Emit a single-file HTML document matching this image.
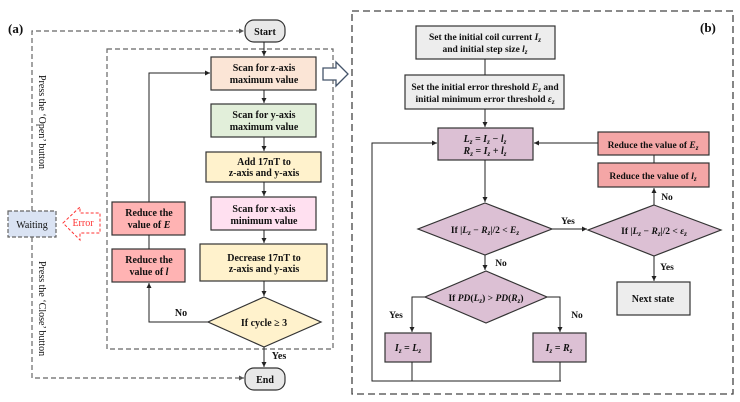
<!DOCTYPE html>
<html><head><meta charset="utf-8"><style>
html,body{margin:0;padding:0;background:#fff}
svg{display:block}
text{font-family:"Liberation Serif",serif;font-weight:bold;font-size:10px;fill:#111}
.n{font-weight:normal}
</style></head><body>
<svg width="740" height="402" viewBox="0 0 740 402" xmlns="http://www.w3.org/2000/svg">
<defs>
<marker id="a" markerWidth="6" markerHeight="6" refX="5" refY="3" orient="auto" markerUnits="userSpaceOnUse"><path d="M0,0.5 L5,3 L0,5.5z" fill="#222"/></marker>
<marker id="g" markerWidth="6" markerHeight="6" refX="5" refY="3" orient="auto" markerUnits="userSpaceOnUse"><path d="M0,0.5 L5,3 L0,5.5z" fill="#555"/></marker>
</defs>
<!-- panel a -->
<text x="8" y="33" style="font-size:13px">(a)</text>
<g stroke="#666" stroke-width="1.2" stroke-dasharray="5,3" fill="none">
<path d="M32,211 V31 H244" marker-end="url(#g)"/>
<path d="M32,237 V378 H244" marker-end="url(#g)"/>
<rect x="107" y="49" width="226" height="300"/>
</g>
<rect x="8" y="211" width="48" height="26" fill="#dae3f3" stroke="#666" stroke-width="1.2" stroke-dasharray="4,2"/>
<text x="32" y="228" text-anchor="middle" class="n">Waiting</text>
<path d="M63,223 L80,207 V213 H100 V233 H80 V240 Z" fill="none" stroke="#f33" stroke-width="1" stroke-dasharray="3,2"/>
<text x="83" y="226" text-anchor="middle" class="n" style="fill:#f33">Error</text>
<text transform="translate(39,75) rotate(90)" class="n">Press the ‘Open’ button</text>
<text transform="translate(39,261) rotate(90)" class="n">Press the ‘Close’ button</text>
<rect x="245" y="20" width="40" height="22" rx="9" fill="#e8e8e8" stroke="#333" stroke-width="1.2"/>
<text x="265" y="35" text-anchor="middle">Start</text>
<rect x="245" y="368" width="40" height="22" rx="9" fill="#e8e8e8" stroke="#333" stroke-width="1.2"/>
<text x="265" y="383" text-anchor="middle">End</text>
<g stroke="#333" stroke-width="1.2">
<rect x="211" y="57" width="105" height="33" fill="#fbe5d6"/>
<rect x="211" y="104" width="105" height="33" fill="#e2efda"/>
<rect x="206" y="152" width="115" height="30" fill="#fff2cc"/>
<rect x="211" y="197" width="105" height="33" fill="#ffe0f0"/>
<rect x="200" y="244" width="127" height="37" fill="#fff2cc"/>
<path d="M264,297 L321,322 L264,347 L208,322Z" fill="#fff2cc"/>
<rect x="112" y="202" width="73" height="33" fill="#ffb3b3"/>
<rect x="112" y="249" width="73" height="33" fill="#ffb3b3"/>
</g>
<g stroke="#222" stroke-width="1" fill="none">
<path d="M264,42 V56" marker-end="url(#a)"/>
<path d="M264,90 V103" marker-end="url(#a)"/>
<path d="M264,137 V151" marker-end="url(#a)"/>
<path d="M264,182 V196" marker-end="url(#a)"/>
<path d="M264,230 V243" marker-end="url(#a)"/>
<path d="M264,281 V296" marker-end="url(#a)"/>
<path d="M264,347 V367" marker-end="url(#a)"/>
<path d="M149,202 V73 H210" marker-end="url(#a)"/>
<path d="M149,235 V249"/>
<path d="M208,322 H149 V283" marker-end="url(#a)"/>
</g>
<path d="M323,68 H336 V62 L348,74 L336,86 V80 H323Z" fill="#fff" stroke="#44546a" stroke-width="1.3"/>
<text x="264" y="71" text-anchor="middle">Scan for z-axis</text><text x="264" y="83" text-anchor="middle">maximum value</text>
<text x="264" y="118" text-anchor="middle">Scan for y-axis</text><text x="264" y="130" text-anchor="middle">maximum value</text>
<text x="264" y="165" text-anchor="middle">Add 17nT to</text><text x="264" y="176" text-anchor="middle">z-axis and y-axis</text>
<text x="264" y="212" text-anchor="middle">Scan for x-axis</text><text x="264" y="224" text-anchor="middle">minimum value</text>
<text x="264" y="261" text-anchor="middle">Decrease 17nT to</text><text x="264" y="272" text-anchor="middle">z-axis and y-axis</text>
<text x="264" y="326" text-anchor="middle">If cycle ≥ 3</text>
<text x="149" y="216" text-anchor="middle">Reduce the</text><text x="149" y="228" text-anchor="middle">value of <tspan font-style="italic">E</tspan></text>
<text x="149" y="263" text-anchor="middle">Reduce the</text><text x="149" y="275" text-anchor="middle">value of <tspan font-style="italic">l</tspan></text>
<text x="181" y="316" text-anchor="middle">No</text>
<text x="279" y="359" text-anchor="middle">Yes</text>
<!-- panel b -->
<rect x="352" y="11" width="381" height="383" fill="none" stroke="#444" stroke-width="1.3" stroke-dasharray="7,4"/>
<text x="700" y="32" style="font-size:13px">(b)</text>
<g stroke="#333" stroke-width="1.2">
<rect x="416" y="26" width="139" height="33" fill="#ededed"/>
<rect x="405" y="75" width="159" height="34" fill="#ededed"/>
<rect x="438" y="128" width="95" height="32" fill="#dcc0d4"/>
<rect x="598" y="132" width="111" height="23" fill="#f4a6a6"/>
<rect x="598" y="163" width="111" height="24" fill="#f4a6a6"/>
<path d="M485,203 L552,229 L485,255 L418,229Z" fill="#dcc0d4"/>
<path d="M654,205 L721,230 L654,256 L588,230Z" fill="#dcc0d4"/>
<path d="M486,271 L547,297 L486,323 L425,297Z" fill="#dcc0d4"/>
<rect x="617" y="282" width="73" height="33" fill="#ededed"/>
<rect x="385" y="333" width="46" height="29" fill="#dcc0d4"/>
<rect x="533" y="333" width="53" height="29" fill="#dcc0d4"/>
</g>
<g stroke="#222" stroke-width="1" fill="none">
<path d="M485,59 V75"/>
<path d="M485,109 V127" marker-end="url(#a)"/>
<path d="M485,160 V202" marker-end="url(#a)"/>
<path d="M552,229 H587" marker-end="url(#a)"/>
<path d="M654,205 V188" marker-end="url(#a)"/>
<path d="M654,155 V163"/>
<path d="M598,143 H534" marker-end="url(#a)"/>
<path d="M654,256 V281" marker-end="url(#a)"/>
<path d="M485,255 V270" marker-end="url(#a)"/>
<path d="M425,297 H412 V332" marker-end="url(#a)"/>
<path d="M547,297 H560 V332" marker-end="url(#a)"/>
<path d="M412,362 V381 M560,362 V381 M561,381 H372 V143 H437" marker-end="url(#a)"/>
</g>
<text x="485" y="40" text-anchor="middle" style="font-size:9.5px">Set the initial coil current <tspan font-style="italic">I<tspan style="font-size:7px" dy="2">z</tspan></tspan></text>
<text x="485" y="52" text-anchor="middle" style="font-size:9.5px">and initial step size <tspan font-style="italic">l<tspan style="font-size:7px" dy="2">z</tspan></tspan></text>
<text x="485" y="90" text-anchor="middle" style="font-size:9.5px">Set the initial error threshold <tspan font-style="italic">E<tspan style="font-size:7px" dy="2">z</tspan></tspan><tspan dy="-2"> and</tspan></text>
<text x="485" y="102" text-anchor="middle" style="font-size:9.5px">initial minimum error threshold <tspan font-style="italic">ε<tspan style="font-size:7px" dy="2">z</tspan></tspan></text>
<text x="485" y="142" text-anchor="middle" font-style="italic">L<tspan style="font-size:7px" dy="2">z</tspan><tspan dy="-2"> = I</tspan><tspan style="font-size:7px" dy="2">z</tspan><tspan dy="-2"> − l</tspan><tspan style="font-size:7px" dy="2">z</tspan></text>
<text x="485" y="154" text-anchor="middle" font-style="italic">R<tspan style="font-size:7px" dy="2">z</tspan><tspan dy="-2"> = I</tspan><tspan style="font-size:7px" dy="2">z</tspan><tspan dy="-2"> + l</tspan><tspan style="font-size:7px" dy="2">z</tspan></text>
<text x="653" y="148" text-anchor="middle" style="font-size:9.5px">Reduce the value of <tspan font-style="italic">E<tspan style="font-size:7px" dy="2">z</tspan></tspan></text>
<text x="653" y="179" text-anchor="middle" style="font-size:9.5px">Reduce the value of <tspan font-style="italic">l<tspan style="font-size:7px" dy="2">z</tspan></tspan></text>
<text x="485" y="233" text-anchor="middle" style="font-size:9.5px">If |<tspan font-style="italic">L<tspan style="font-size:7px" dy="2">z</tspan><tspan dy="-2"> − R</tspan><tspan style="font-size:7px" dy="2">z</tspan></tspan><tspan dy="-2">|/2 &lt; </tspan><tspan font-style="italic">E<tspan style="font-size:7px" dy="2">z</tspan></tspan></text>
<text x="654" y="234" text-anchor="middle" style="font-size:9.5px">If |<tspan font-style="italic">L<tspan style="font-size:7px" dy="2">z</tspan><tspan dy="-2"> − R</tspan><tspan style="font-size:7px" dy="2">z</tspan></tspan><tspan dy="-2">|/2 &lt; </tspan><tspan font-style="italic">ε<tspan style="font-size:7px" dy="2">z</tspan></tspan></text>
<text x="486" y="301" text-anchor="middle" style="font-size:9.5px">If <tspan font-style="italic">PD</tspan>(<tspan font-style="italic">L<tspan style="font-size:7px" dy="2">z</tspan></tspan><tspan dy="-2">) &gt; </tspan><tspan font-style="italic">PD</tspan>(<tspan font-style="italic">R<tspan style="font-size:7px" dy="2">z</tspan></tspan><tspan dy="-2">)</tspan></text>
<text x="653" y="302" text-anchor="middle">Next state</text>
<text x="408" y="351" text-anchor="middle" font-style="italic">I<tspan style="font-size:7px" dy="2">z</tspan><tspan dy="-2"> = L</tspan><tspan style="font-size:7px" dy="2">z</tspan></text>
<text x="559" y="351" text-anchor="middle" font-style="italic">I<tspan style="font-size:7px" dy="2">z</tspan><tspan dy="-2"> = R</tspan><tspan style="font-size:7px" dy="2">z</tspan></text>
<text x="568" y="224" text-anchor="middle" style="font-size:9.5px">Yes</text>
<text x="667" y="200" text-anchor="middle" style="font-size:9.5px">No</text>
<text x="667" y="270" text-anchor="middle" style="font-size:9.5px">Yes</text>
<text x="501" y="266" text-anchor="middle" style="font-size:9.5px">No</text>
<text x="396" y="318" text-anchor="middle" style="font-size:9.5px">Yes</text>
<text x="577" y="318" text-anchor="middle" style="font-size:9.5px">No</text>
</svg>
</body></html>
